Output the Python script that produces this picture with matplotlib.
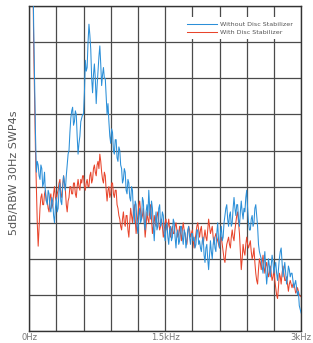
import numpy as np
import matplotlib.pyplot as plt

# spectrum traces, in 5 dB divisions above the bottom of the screen
# one reading every 10 Hz, 0 .. 3 kHz
without_stab = [
    12, 12, 12, 12, 10.5, 8.5, 7.0, 5.5, 4.4, 4.7,
    4.6, 4.3, 4.2, 4.6, 4.5, 4.0, 4.1, 4.4, 3.8, 3.6,
    3.5, 3.9, 3.8, 3.4, 3.3, 3.7, 3.6, 3.2, 3.0, 3.4,
    3.7, 3.3, 3.4, 3.9, 4.1, 3.6, 3.5, 4.0, 4.3, 4.1,
    3.9, 4.3, 4.6, 4.9, 5.0, 5.5, 5.9, 6.1, 6.2, 5.7,
    5.8, 6.1, 6.0, 5.4, 4.9, 5.2, 5.4, 5.8, 5.9, 6.0,
    6.0, 6.6, 7.5, 7.2, 7.3, 8.0, 8.5, 8.2, 7.8, 7.0,
    6.6, 7.1, 7.4, 7.0, 6.3, 6.8, 7.2, 7.6, 7.9, 7.4,
    6.8, 7.1, 7.3, 7.0, 7.0, 6.5, 6.0, 6.3, 5.8, 5.4,
    5.2, 5.6, 5.5, 5.0, 4.9, 5.3, 5.3, 4.8, 4.7, 5.1,
    5.0, 4.6, 4.5, 4.1, 4.2, 4.5, 4.4, 3.9, 3.8, 4.2,
    4.1, 3.7, 3.6, 4.0, 3.9, 3.3, 3.0, 3.6, 3.5, 2.9,
    2.7, 3.2, 3.4, 3.0, 3.1, 3.7, 3.6, 3.0, 2.8, 3.3,
    3.5, 3.2, 3.9, 3.4, 3.1, 3.6, 3.4, 2.9, 2.5, 3.0,
    3.3, 2.8, 2.9, 3.4, 3.5, 2.9, 3.0, 3.3, 3.2, 2.7,
    2.5, 2.9, 3.0, 2.6, 2.4, 2.8, 2.9, 2.5, 2.6, 3.1,
    3.0, 2.6, 2.3, 2.7, 2.8, 2.4, 2.5, 2.9, 2.9, 2.6,
    2.4, 2.8, 2.7, 2.3, 2.5, 2.8, 2.9, 2.6, 2.4, 2.7,
    2.7, 2.5, 2.6, 2.3, 2.4, 2.8, 2.8, 2.4, 2.5, 2.3,
    2.2, 2.5, 2.6, 2.1, 1.9, 2.3, 2.4, 2.0, 1.7, 2.1,
    2.5, 2.2, 2.0, 2.4, 2.6, 2.3, 2.2, 2.7, 3.0, 2.5,
    2.3, 2.7, 2.9, 2.5, 2.6, 3.0, 3.2, 3.4, 3.5, 3.1,
    2.9, 3.2, 3.3, 2.9, 3.0, 3.4, 3.7, 3.4, 3.2, 3.5,
    3.5, 3.1, 2.9, 3.3, 3.6, 3.3, 3.1, 3.4, 3.3, 3.7,
    3.9, 3.4, 3.0, 2.8, 2.8, 3.1, 3.2, 2.9, 3.0, 3.4,
    3.5, 3.2, 2.9, 2.4, 2.2, 2.1, 2.0, 1.8, 1.6, 1.9,
    2.2, 1.7, 1.3, 1.6, 2.0, 1.8, 1.5, 1.8, 2.1, 1.9,
    1.6, 1.8, 1.9, 1.6, 1.4, 1.7, 2.0, 2.2, 2.3, 1.9,
    1.5, 1.7, 1.9, 1.6, 1.3, 1.5, 1.8, 1.7, 1.5, 1.6,
    1.6, 1.4, 1.2, 1.3, 1.4, 1.2, 1.0, 1.1, 0.7, 0.6,
    0.5,
]
with_stab = [
    12, 12, 12, 12, 10.5, 8.0, 6.5, 5.0, 4.0, 3.0,
    2.35, 2.9, 3.4, 3.7, 3.8, 3.5, 3.5, 3.8, 3.9, 3.6,
    3.6, 3.4, 3.3, 3.7, 3.8, 3.4, 3.5, 3.8, 4.0, 3.7,
    3.6, 3.8, 3.9, 4.1, 4.2, 3.8, 3.7, 4.0, 4.3, 4.1,
    3.9, 3.5, 3.3, 3.6, 3.7, 4.0, 4.0, 3.8, 3.8, 4.1,
    4.1, 3.8, 3.7, 4.0, 4.2, 4.0, 3.9, 4.2, 4.1, 4.3,
    4.3, 4.0, 3.9, 4.1, 4.2, 4.0, 4.0, 4.3, 4.4, 4.1,
    4.2, 4.5, 4.6, 4.4, 4.3, 4.6, 4.7, 4.5, 4.9, 4.7,
    4.4, 4.2, 4.1, 4.4, 4.3, 3.9, 3.6, 3.9, 4.0, 3.7,
    3.8, 4.1, 4.1, 3.8, 3.7, 3.9, 3.9, 3.5, 3.4, 3.2,
    3.1, 2.9, 2.8, 3.1, 3.3, 3.0, 2.9, 3.2, 3.2, 2.8,
    2.6, 3.0, 3.4, 3.2, 3.0, 3.3, 3.5, 3.1, 2.7, 3.0,
    3.2, 3.5, 3.6, 3.3, 3.1, 3.2, 3.4, 3.0, 2.6, 2.9,
    3.3, 3.1, 3.0, 3.3, 3.5, 3.1, 2.7, 2.9, 3.2, 3.0,
    2.9, 3.2, 3.3, 3.0, 2.8, 2.9, 3.1, 2.9, 2.6, 2.8,
    3.0, 3.1, 2.8, 2.9, 3.1, 2.8, 2.6, 2.8, 2.9, 2.7,
    2.7, 2.9, 3.0, 2.8, 2.6, 2.7, 2.9, 2.7, 2.5, 2.8,
    3.0, 2.8, 2.7, 2.5, 2.4, 2.7, 2.9, 2.8, 2.6, 2.7,
    2.8, 2.5, 2.3, 2.5, 2.7, 2.9, 3.0, 2.8, 2.6, 2.8,
    2.9, 2.6, 2.4, 2.6, 2.8, 2.6, 2.5, 2.8, 3.1, 2.9,
    2.7, 2.8, 2.9, 2.6, 2.4, 2.6, 2.7, 2.6, 2.5, 2.4,
    2.3, 2.5, 2.6, 2.4, 2.2, 2.0, 1.9, 2.2, 2.4, 2.5,
    2.6, 2.4, 2.3, 2.6, 2.8, 2.6, 2.5, 2.8, 3.0, 3.2,
    3.3, 3.0, 2.7, 2.2, 1.7, 2.0, 2.4, 2.2, 2.1, 2.4,
    2.6, 2.4, 2.3, 2.4, 2.5, 2.2, 2.0, 2.1, 2.3, 1.9,
    1.6, 1.4, 1.3, 1.7, 2.0, 1.9, 1.7, 1.9, 2.1, 1.8,
    1.6, 1.8, 1.9, 1.7, 1.5, 1.6, 1.8, 1.6, 1.4, 1.5,
    1.7, 1.4, 1.2, 1.0, 0.9, 1.2, 1.6, 1.5, 1.3, 1.6,
    1.8, 1.6, 1.4, 1.4, 1.5, 1.3, 1.1, 1.3, 1.4, 1.3,
    1.2, 1.3, 1.3, 1.2, 1.05, 1.1, 1.2, 1.1, 1.0, 0.97,
    0.95,
]
series_labels = ['Without Disc Stabilizer', 'With Disc Stabilizer']
x_tick_labels = ['0Hz', '1.5kHz', '3kHz']
x_tick_values = [0, 1500, 3000]
y_label = '5dB/RBW 30Hz SWP4s'

freq_blue = np.linspace(0, 3000, len(without_stab))
freq_red = np.linspace(0, 3000, len(with_stab))

fig = plt.figure(figsize=(3.13, 3.43), dpi=100)
ax = fig.add_axes([0.093, 0.035, 0.869, 0.947])

ax.plot(freq_blue, without_stab, color='#2b8fd8', lw=0.75, label=series_labels[0], zorder=3)
ax.plot(freq_red, with_stab, color='#e8452c', lw=0.75, label=series_labels[1], zorder=2)

ax.set_xlim(0, 3000)
ax.set_ylim(0, 9)
ax.set_xticks(np.arange(0, 3001, 300))
ax.set_yticks(np.arange(0, 10, 1))
ax.tick_params(length=0, labelbottom=False, labelleft=False)
ax.grid(True, color='#4a4a4a', lw=0.9, zorder=0)
for s in ax.spines.values():
    s.set_color('#333333')
    s.set_linewidth(1.0)

# frequency labels sit in the thin strip under the screen
for v, t in zip(x_tick_values, x_tick_labels):
    xf = ax.transData.transform((v, 0))[0] / fig.bbox.width
    ha = 'center'
    if v == x_tick_values[-1]:
        ha = 'right'
        xf = 0.995
    fig.text(xf, 0.002, t, ha=ha, va='bottom', fontsize=6, color='#777777')

fig.text(0.045, 0.495, y_label, rotation=90, ha='center', va='center',
         fontsize=8, color='#555555')

leg = ax.legend(loc='upper right', bbox_to_anchor=(0.995, 0.975), frameon=True,
                fontsize=4.6, handlelength=4.6, labelcolor='#555555',
                borderpad=0.6, labelspacing=0.5, handletextpad=0.5)
leg.get_frame().set_edgecolor('none')
leg.get_frame().set_facecolor('white')
leg.get_frame().set_alpha(1)
leg.set_zorder(5)

fig.savefig('out.png', dpi=100)
